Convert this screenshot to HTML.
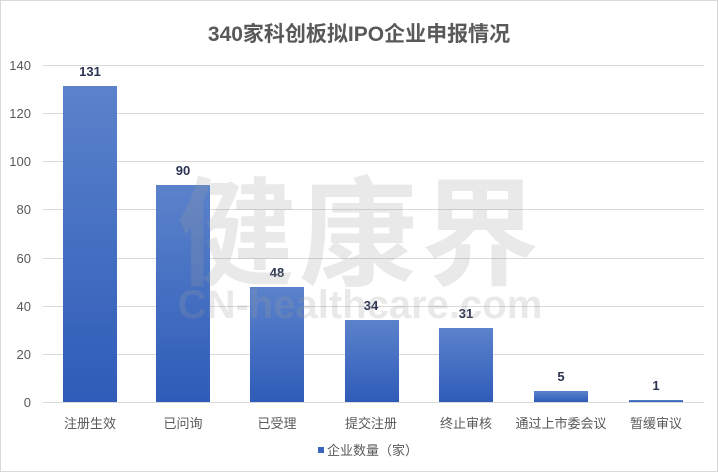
<!DOCTYPE html>
<html><head><meta charset="utf-8"><style>
html,body{margin:0;padding:0;background:#fff;}
svg{display:block;}
text{font-family:"Liberation Sans","Noto Sans CJK SC",sans-serif;}
</style></head><body>
<svg width="718" height="472" viewBox="0 0 718 472" xmlns="http://www.w3.org/2000/svg">
<defs>
<linearGradient id="g" x1="0" y1="0" x2="0" y2="1">
<stop offset="0" stop-color="#5b82cb"/><stop offset="1" stop-color="#2e5cb8"/>
</linearGradient>
</defs>
<rect x="0.5" y="0.5" width="717" height="471" fill="#fff" stroke="#d9d9d9"/>
<text x="359" y="41" text-anchor="middle" font-size="21" font-weight="bold" fill="#595959">340家科创板拟IPO企业申报情况</text>
<g stroke="#d9d9d9" stroke-width="1">
<line x1="43" y1="65.5" x2="704" y2="65.5"/>
<line x1="43" y1="113.5" x2="704" y2="113.5"/>
<line x1="43" y1="161.5" x2="704" y2="161.5"/>
<line x1="43" y1="209.5" x2="704" y2="209.5"/>
<line x1="43" y1="258.5" x2="704" y2="258.5"/>
<line x1="43" y1="306.5" x2="704" y2="306.5"/>
<line x1="43" y1="354.5" x2="704" y2="354.5"/>
<line x1="43" y1="402.5" x2="704" y2="402.5"/>
</g>
<g font-size="13" fill="#595959" text-anchor="end">
<text x="31" y="70">140</text><text x="31" y="118">120</text><text x="31" y="166">100</text>
<text x="31" y="214">80</text><text x="31" y="263">60</text><text x="31" y="311">40</text>
<text x="31" y="359">20</text><text x="31" y="407">0</text>
</g>
<g fill="url(#g)">
<rect x="63" y="86" width="54" height="316"/>
<rect x="156" y="185" width="54" height="217"/>
<rect x="250" y="287" width="54" height="115"/>
<rect x="345" y="320" width="54" height="82"/>
<rect x="439" y="328" width="54" height="74"/>
<rect x="534" y="391" width="54" height="11"/>
<rect x="629" y="400" width="54" height="2"/>
</g>
<g font-size="13" font-weight="bold" fill="#2b3350" text-anchor="middle">
<text x="90" y="76">131</text><text x="183" y="175">90</text><text x="277" y="277">48</text>
<text x="371" y="310">34</text><text x="466" y="318">31</text><text x="561" y="381">5</text><text x="656" y="390">1</text>
</g>
<g font-size="13" fill="#595959" text-anchor="middle">
<text x="90" y="428">注册生效</text><text x="183" y="428">已问询</text><text x="277" y="428">已受理</text>
<text x="371" y="428">提交注册</text><text x="466" y="428">终止审核</text><text x="561" y="428">通过上市委会议</text><text x="656" y="428">暂缓审议</text>
</g>
<rect x="318" y="447" width="6" height="6" fill="#3a65bf"/>
<text x="327" y="455" font-size="13" fill="#595959">企业数量（家）</text>
<g fill="#9e9e9e" opacity="0.22">
<text x="360" y="276" text-anchor="middle" font-size="118" font-weight="bold" letter-spacing="4">健康界</text>
<text x="360" y="318" text-anchor="middle" font-size="40" font-weight="bold">CN-healthcare.com</text>
</g>
</svg>
</body></html>
